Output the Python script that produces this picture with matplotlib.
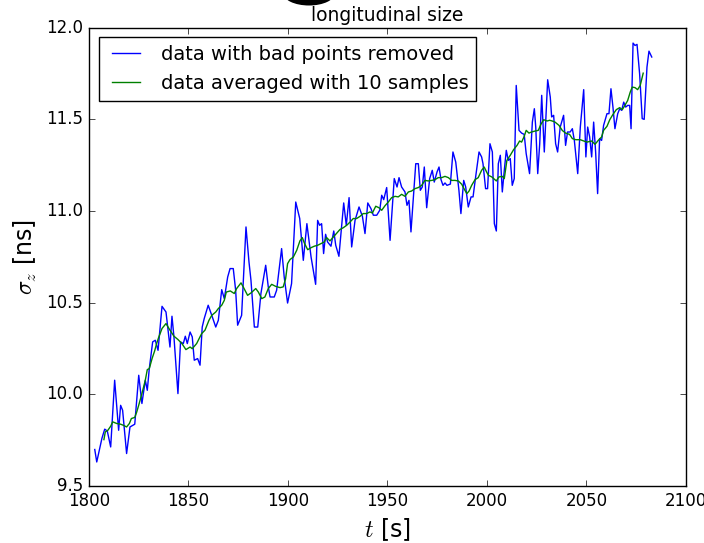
import matplotlib
matplotlib.use("Agg")
import matplotlib.pyplot as plt
from matplotlib.patches import Ellipse

# raw data (bad points removed)
t_raw = [1802.9, 1803.9, 1806.5, 1807.9, 1809.2, 1810.9, 1812.9, 1814.9, 1815.9, 1816.9,
         1818.9, 1820.6, 1823.0, 1825.0, 1826.6, 1828.3, 1829.3, 1830.3, 1832.0, 1833.3,
         1834.7, 1836.7, 1838.7, 1840.7, 1841.7, 1842.7, 1844.7, 1846.0, 1847.4, 1848.4,
         1849.4, 1850.8, 1851.9, 1852.9, 1854.6, 1855.8, 1856.9, 1857.9, 1859.9, 1861.7,
         1863.7, 1865.0, 1866.7, 1868.0, 1869.7, 1870.9, 1872.5, 1873.7, 1874.7, 1876.7,
         1878.9, 1880.4, 1881.4, 1883.1, 1884.8, 1886.4, 1888.8, 1890.1, 1891.0, 1893.1,
         1894.3, 1896.8, 1898.1, 1899.8, 1901.8, 1903.9, 1905.9, 1907.7, 1909.5, 1911.6,
         1913.9, 1914.9, 1915.9, 1916.9, 1917.9, 1918.9, 1919.9, 1921.6, 1923.0, 1924.0,
         1925.6, 1928.0, 1929.3, 1930.7, 1932.0, 1933.7, 1935.7, 1937.4, 1938.7, 1940.1,
         1941.7, 1942.9, 1944.6, 1946.1, 1947.1, 1948.1, 1949.6, 1951.3, 1953.4, 1954.8,
         1955.8, 1957.1, 1958.8, 1959.8, 1960.8, 1961.8, 1964.2, 1965.5, 1966.5, 1967.5,
         1968.5, 1969.7, 1971.2, 1972.5, 1973.5, 1974.9, 1975.9, 1976.9, 1977.9, 1978.9,
         1979.9, 1981.6, 1982.9, 1984.3, 1985.9, 1986.9, 1988.3, 1989.3, 1990.6, 1992.0,
         1993.0, 1994.3, 1996.0, 1997.3, 1998.0, 1999.3, 2000.3, 2001.5, 2002.7, 2003.7,
         2004.7, 2005.7, 2006.7, 2007.7, 2008.7, 2009.7, 2010.7, 2011.7, 2012.7, 2013.7,
         2014.7, 2016.1, 2017.4, 2018.7, 2019.7, 2021.4, 2022.8, 2023.8, 2024.5, 2025.5,
         2026.5, 2027.5, 2028.8, 2030.5, 2031.8, 2032.5, 2033.5, 2034.5, 2035.5, 2036.8,
         2038.5, 2039.5, 2040.5, 2041.8, 2042.9, 2043.9, 2045.6, 2046.9, 2048.6, 2049.7,
         2050.6, 2051.6, 2052.6, 2053.6, 2054.6, 2055.6, 2056.6, 2057.6, 2058.6, 2060.3,
         2061.3, 2062.3, 2063.3, 2064.3, 2065.7, 2066.7, 2067.7, 2068.7, 2069.7, 2070.7,
         2071.7, 2072.4, 2073.4, 2074.4, 2075.4, 2076.7, 2078.0, 2079.0, 2080.4, 2081.4,
         2082.8]
sz_raw = [9.699, 9.631, 9.76, 9.81, 9.80, 9.713, 10.077, 9.804, 9.94, 9.913,
          9.677, 9.822, 9.837, 10.104, 9.95, 10.077, 10.022, 10.14, 10.286, 10.295,
          10.24, 10.48, 10.449, 10.258, 10.426, 10.313, 10.004, 10.286, 10.277, 10.317,
          10.277, 10.34, 10.313, 10.186, 10.195, 10.159, 10.367, 10.413, 10.486, 10.431,
          10.367, 10.404, 10.571, 10.522, 10.64, 10.686, 10.686, 10.568, 10.377, 10.431,
          10.913, 10.722, 10.622, 10.367, 10.367, 10.55, 10.704, 10.586, 10.531, 10.531,
          10.568, 10.795, 10.64, 10.498, 10.604, 11.049, 10.959, 10.731, 10.931, 10.749,
          10.6, 10.949, 10.922, 10.931, 10.768, 10.873, 10.831, 10.808, 10.891, 10.813,
          10.753, 11.044, 10.922, 11.073, 10.804, 10.949, 11.022, 10.971, 10.877, 11.044,
          11.013, 10.977, 10.977, 11.004, 11.086, 11.062, 11.128, 10.84, 11.177, 11.131,
          11.182, 11.131, 11.104, 11.031, 11.058, 10.886, 11.258, 11.258, 11.113, 11.131,
          11.24, 11.018, 11.177, 11.222, 11.158, 11.213, 11.24, 11.171, 11.14, 11.153,
          11.14, 11.147, 11.322, 11.267, 11.113, 10.986, 11.167, 11.131, 11.022, 11.077,
          11.077, 11.186, 11.322, 11.295, 11.258, 11.122, 11.122, 11.367, 11.322, 10.931,
          10.891, 11.258, 11.304, 11.104, 11.222, 11.331, 11.276, 11.286, 11.14, 11.177,
          11.685, 11.44, 11.425, 11.418, 11.313, 11.204, 11.485, 11.558, 11.458, 11.204,
          11.367, 11.631, 11.322, 11.716, 11.622, 11.513, 11.522, 11.367, 11.322, 11.458,
          11.522, 11.358, 11.431, 11.431, 11.449, 11.385, 11.204, 11.458, 11.662, 11.295,
          11.458, 11.404, 11.295, 11.485, 11.322, 11.095, 11.395, 11.385, 11.467, 11.531,
          11.531, 11.667, 11.567, 11.449, 11.531, 11.558, 11.549, 11.594, 11.567, 11.576,
          11.576, 11.449, 11.916, 11.903, 11.909, 11.749, 11.504, 11.5, 11.785, 11.872,
          11.84]

# averaged curve
t_avg = [1807.5, 1808.2, 1809.5, 1810.9, 1811.9, 1813.9, 1815.9, 1817.3, 1818.9, 1820.3,
         1821.3, 1823.0, 1824.0, 1825.0, 1826.6, 1828.3, 1829.3, 1830.3, 1831.7, 1833.0,
         1834.0, 1835.0, 1836.7, 1838.7, 1840.7, 1842.7, 1844.7, 1846.7, 1848.7, 1850.8,
         1851.9, 1854.1, 1856.6, 1858.3, 1860.3, 1861.7, 1863.7, 1865.0, 1866.7, 1868.0,
         1869.0, 1871.0, 1873.0, 1874.2, 1876.4, 1877.7, 1879.7, 1881.4, 1883.8, 1885.1,
         1886.8, 1888.4, 1890.1, 1891.8, 1893.8, 1896.0, 1897.6, 1898.8, 1899.8, 1901.0,
         1902.7, 1904.4, 1906.0, 1907.2, 1908.2, 1909.9, 1911.6, 1913.2, 1914.9, 1916.6,
         1918.2, 1919.4, 1921.1, 1922.8, 1924.4, 1926.1, 1927.8, 1929.5, 1931.2, 1932.8,
         1934.5, 1936.2, 1937.8, 1939.5, 1941.2, 1942.4, 1944.1, 1945.7, 1947.1, 1948.7,
         1950.4, 1952.1, 1953.8, 1955.4, 1957.1, 1958.8, 1960.5, 1962.1, 1963.8, 1965.5,
         1967.2, 1968.8, 1970.5, 1972.2, 1973.9, 1975.5, 1977.2, 1978.9, 1980.6, 1982.2,
         1983.9, 1985.6, 1987.3, 1988.9, 1989.9, 1991.0, 1992.3, 1994.0, 1995.6, 1997.3,
         1998.6, 1999.8, 2000.7, 2002.4, 2004.7, 2006.0, 2007.7, 2008.7, 2010.0, 2011.7,
         2013.4, 2015.1, 2016.4, 2017.4, 2018.7, 2019.7, 2021.1, 2022.4, 2024.1, 2025.8,
         2027.1, 2028.5, 2030.2, 2031.5, 2032.8, 2034.2, 2036.2, 2037.8, 2039.5, 2041.5,
         2042.9, 2044.6, 2046.9, 2048.6, 2050.3, 2052.6, 2054.3, 2055.9, 2057.6, 2058.6,
         2060.3, 2061.7, 2063.3, 2065.0, 2066.7, 2068.0, 2069.3, 2070.7, 2072.0, 2073.0,
         2074.4, 2075.7, 2077.0, 2078.5]
sz_avg = [9.753, 9.795, 9.804, 9.826, 9.85, 9.841, 9.837, 9.831, 9.822, 9.841,
          9.868, 9.874, 9.904, 9.941, 10.004, 10.077, 10.135, 10.14, 10.195, 10.237,
          10.277, 10.31, 10.359, 10.386, 10.35, 10.317, 10.299, 10.277, 10.244, 10.258,
          10.249, 10.277, 10.331, 10.35, 10.404, 10.431, 10.449, 10.468, 10.486, 10.513,
          10.558, 10.564, 10.55, 10.577, 10.608, 10.582, 10.54, 10.553, 10.577, 10.558,
          10.522, 10.531, 10.577, 10.6, 10.589, 10.582, 10.586, 10.63, 10.713, 10.735,
          10.749, 10.786, 10.837, 10.855, 10.826, 10.789, 10.8, 10.808, 10.813, 10.822,
          10.831, 10.855, 10.837, 10.858, 10.877, 10.899, 10.909, 10.922, 10.94, 10.959,
          10.959, 10.971, 10.986, 10.986, 10.995, 10.989, 11.026, 11.018, 11.004, 11.028,
          11.049, 11.073, 11.08, 11.077, 11.091, 11.08, 11.104, 11.109, 11.122, 11.128,
          11.14, 11.167, 11.164, 11.167, 11.171, 11.182, 11.182, 11.189, 11.182, 11.167,
          11.167, 11.164, 11.146, 11.113, 11.095, 11.109, 11.14, 11.171, 11.182, 11.222,
          11.24, 11.213, 11.195, 11.186, 11.164, 11.186, 11.189, 11.177, 11.276, 11.304,
          11.335, 11.358, 11.382, 11.376, 11.407, 11.44, 11.425, 11.431, 11.436, 11.44,
          11.473, 11.498, 11.491, 11.495, 11.491, 11.485, 11.467, 11.44, 11.425, 11.418,
          11.395, 11.389, 11.389, 11.382, 11.376, 11.382, 11.364, 11.385, 11.404, 11.44,
          11.462, 11.498, 11.527, 11.553, 11.564, 11.553, 11.576, 11.603, 11.649, 11.676,
          11.673, 11.662, 11.685, 11.752]

xticks = [1800, 1850, 1900, 1950, 2000, 2050, 2100]
yticks = [9.5, 10.0, 10.5, 11.0, 11.5, 12.0]

plt.style.use('classic')
fig = plt.figure(figsize=(7.04, 5.43), dpi=100, facecolor='white')
ax = fig.add_axes([0.1264, 0.105, 0.848, 0.844])

ax.plot(t_raw, sz_raw, 'b-', lw=1.0, label='data with bad points removed')
ax.plot(t_avg, sz_avg, 'g-', lw=1.0, label='data averaged with 10 samples')

ax.set_xlim(1800, 2100)
ax.set_ylim(9.5, 12.0)
ax.set_xticks(xticks)
ax.set_yticks(yticks)
ax.set_yticklabels(['%.1f' % v for v in yticks])
ax.tick_params(labelsize=12)

ax.set_xlabel(r'$t$ [s]', fontsize=17)
ax.set_ylabel(r'$\sigma_z$ [ns]', fontsize=17)
ax.set_title('longitudinal size', fontsize=13.5)

ax.legend(loc='upper left', fontsize=14, frameon=True)

# the dark blob cut off at the top edge
blob = Ellipse((3.09, 5.50), 0.52, 0.25, transform=fig.dpi_scale_trans,
               facecolor='black', edgecolor='none')
fig.patches.append(blob)

fig.savefig('out.png', dpi=100, facecolor='white')
